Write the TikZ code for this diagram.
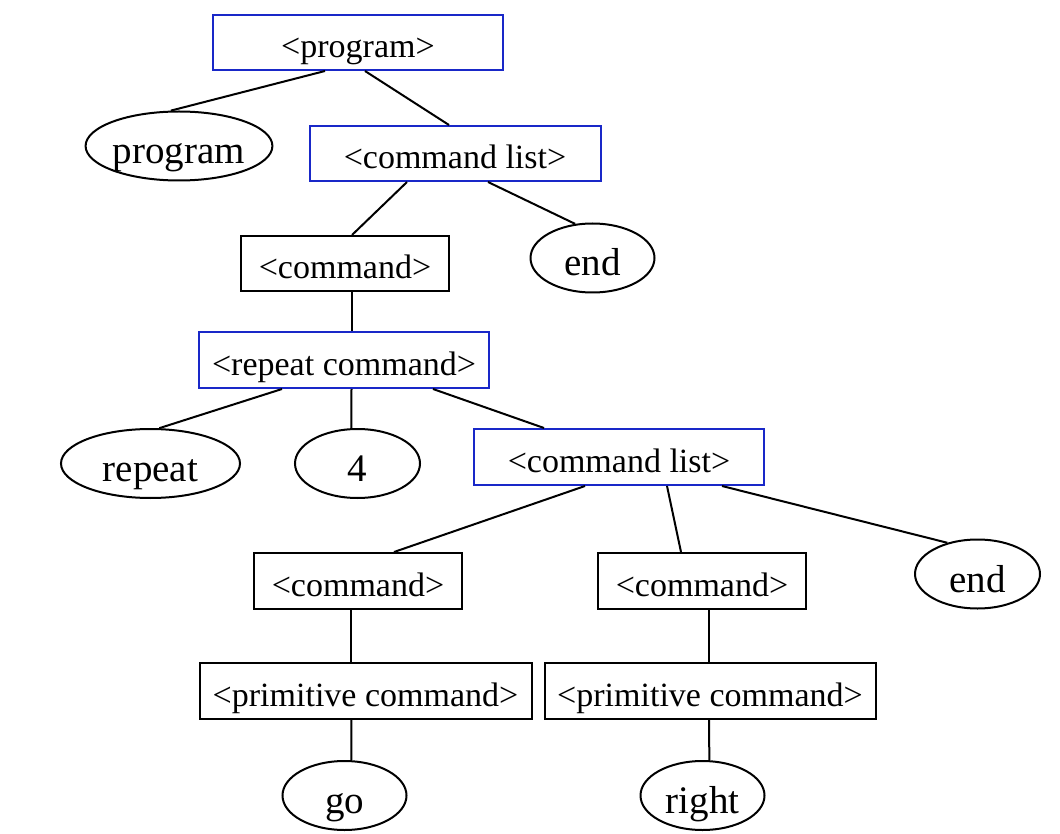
\documentclass[tikz,border=0pt]{standalone}
\usepackage{fontspec}
\setmainfont{Liberation Serif}
\usetikzlibrary{shapes.geometric}
\definecolor{nodeblue}{RGB}{25,40,200}
\tikzset{
 base/.style={draw, line width=2pt, inner sep=0pt, font=\fontsize{34}{40}\selectfont, text height=31pt, text depth=0pt},
 blk/.style={base, rectangle, draw=black},
 blu/.style={base, rectangle, draw=nodeblue},
 term/.style={draw, ellipse, line width=2pt, inner sep=0pt, font=\fontsize{39}{46}\selectfont, text height=36pt, text depth=0pt},
 conn/.style={line width=2pt}
}
\begin{document}
\begin{tikzpicture}[x=1pt,y=-1pt]
\useasboundingbox (0,0) rectangle (1060,834);
\node[blu, minimum width=290, minimum height=55] (prog) at (358,42.5) {<program>};
\node[term, minimum width=181, minimum height=69] (progE) at (179,146) {program};
\node[blu, minimum width=291, minimum height=55] (cl1) at (455,153.5) {<command list>};
\node[blk, minimum width=208, minimum height=55] (cmd1) at (345,263.5) {<command>};
\node[term, minimum width=124, minimum height=69] (end1) at (592.5,258) {end};
\node[blu, minimum width=290, minimum height=56] (rep) at (344,360) {<repeat command>};
\node[term, minimum width=179, minimum height=69] (repE) at (150.5,463.5) {repeat};
\node[term, minimum width=125, minimum height=69] (four) at (357.5,463.5) {4};
\node[blu, minimum width=290, minimum height=56] (cl2) at (619,457) {<command list>};
\node[blk, minimum width=208, minimum height=56] (cmd2) at (358,581) {<command>};
\node[blk, minimum width=208, minimum height=56] (cmd3) at (702,581) {<command>};
\node[term, minimum width=125, minimum height=69] (end2) at (977.5,574) {end};
\node[blk, minimum width=332, minimum height=56] (prim1) at (365.5,691) {<primitive command>};
\node[blk, minimum width=331, minimum height=56] (prim2) at (710,691) {<primitive command>};
\node[term, minimum width=124, minimum height=69] (go) at (344.5,795.5) {go};
\node[term, minimum width=124, minimum height=69] (right) at (702.5,795.5) {right};

\draw[conn] ([xshift=-33]prog.south) -- (progE.103);
\draw[conn] ([xshift=7]prog.south) -- ([xshift=-6]cl1.north);
\draw[conn] ([xshift=-48]cl1.south) -- ([xshift=7]cmd1.north);
\draw[conn] ([xshift=33]cl1.south) -- (end1.117);
\draw[conn] ([xshift=6.5]cmd1.south) -- ([xshift=7.5]rep.north);
\draw[conn] ([xshift=-62]rep.south) -- (repE.76);
\draw[conn] ([xshift=7.5]rep.south) -- (four.100);
\draw[conn] ([xshift=89]rep.south) -- ([xshift=-75]cl2.north);
\draw[conn] ([xshift=-34]cl2.south) -- ([xshift=36]cmd2.north);
\draw[conn] ([xshift=48]cl2.south) -- ([xshift=-21]cmd3.north);
\draw[conn] ([xshift=103]cl2.south) -- (end2.134);
\draw[conn] ([xshift=-7]cmd2.south) -- ([xshift=-14.5]prim1.north);
\draw[conn] ([xshift=-14.2]prim1.south) -- (go.79);
\draw[conn] ([xshift=7]cmd3.south) -- ([xshift=-1]prim2.north);
\draw[conn] ([xshift=-1]prim2.south) -- (right.79);
\end{tikzpicture}
\end{document}
